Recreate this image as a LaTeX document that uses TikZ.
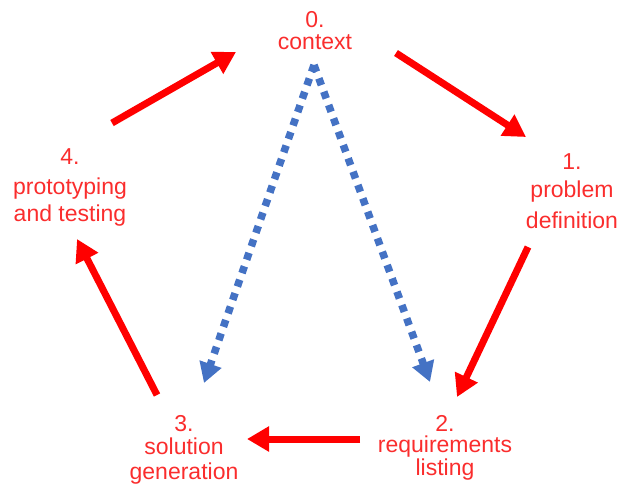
\documentclass[tikz,border=0pt]{standalone}
\usepackage{fontspec}
\setmainfont{Liberation Sans}
\usetikzlibrary{arrows.meta}

\definecolor{stepred}{RGB}{250,45,45}
\definecolor{flowblue}{RGB}{68,114,196}

\begin{document}
\begin{tikzpicture}[x=0.5pt,y=-0.5pt,
    stage/.style={anchor=north,inner sep=0pt,align=center,text=stepred,
      font=\fontsize{11.5}{11.5}\selectfont},
    flow/.style={draw=red,line width=3.5pt,-{Triangle[length=11pt,width=12pt]}},
    back/.style={draw=flowblue,line width=3.75pt,dash pattern=on 3.6pt off 3.5pt,
      -{Triangle[length=10pt,width=11pt]}}]
      \useasboundingbox (0,0) rectangle (620,489);
      \node (ctx) [stage] at (315,11) {0.\\[-0.5pt]context};
      \node (prob) [stage] at (572,153) {1.\\[2.5pt]problem\\[4pt]definition};
      \node (req) [stage] at (445,415) {2.\\[-1pt]requirements\\[0pt]listing};
      \node (sol) [stage] at (184,415) {3.\\[0pt]solution\\[1pt]generation};
      \node (proto) [stage] at (70,148) {4.\\[3.5pt]prototyping\\[2pt]and testing};
      \draw[flow] ([shift={(81,42)}]ctx.north) -- ([shift={(-46,-16)}]prob.north);
      \draw[flow] ([shift={(-44,94)}]prob.north) -- ([shift={(12,-18)}]req.north);
      \draw[flow] ([shift={(-85,24)}]req.north) -- ([shift={(63,24)}]sol.north);
      \draw[flow] ([shift={(-27,-20)}]sol.north) -- ([shift={(7,91)}]proto.north);
      \draw[flow] ([shift={(42,-25)}]proto.north) -- ([shift={(-79,41)}]ctx.north);
      % the dotted links back from the context
      \draw[back] ([shift={(-1,54)}]ctx.north) -- ([shift={(20,-32)}]sol.north);
      \draw[back] ([shift={(-1,54)}]ctx.north) -- ([shift={(-15,-33)}]req.north);
    \end{tikzpicture}
\end{document}
